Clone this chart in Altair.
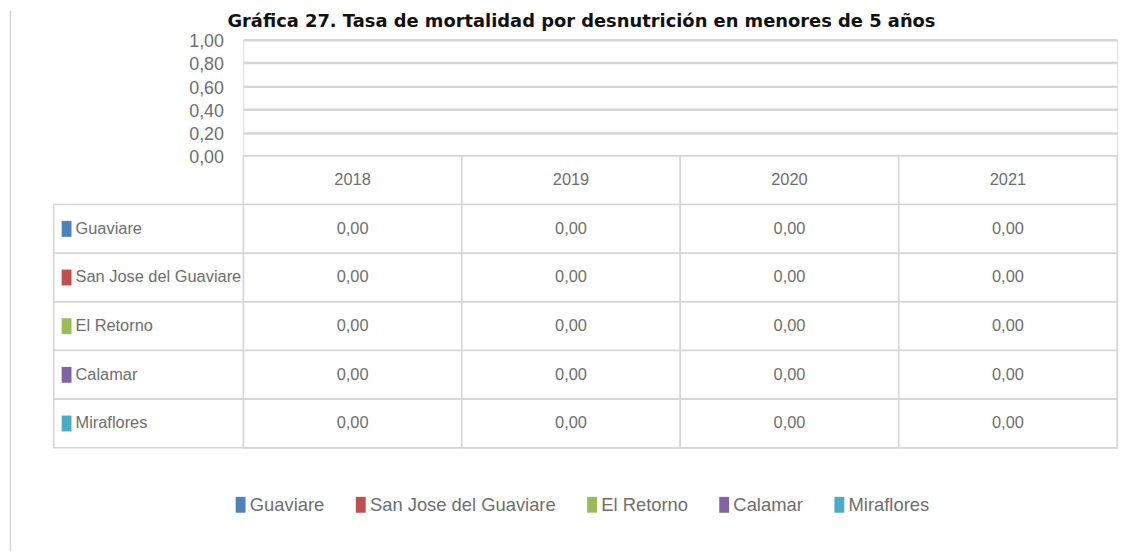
import altair as alt
import pandas as pd

# ---------------- data ----------------
titulo = "Gráfica 27. Tasa de mortalidad por desnutrición en menores de 5 años"
anios = ["2018", "2019", "2020", "2021"]
municipios = ["Guaviare", "San Jose del Guaviare", "El Retorno", "Calamar", "Miraflores"]
tasa_guaviare = [0.00, 0.00, 0.00, 0.00]
tasa_san_jose = [0.00, 0.00, 0.00, 0.00]
tasa_el_retorno = [0.00, 0.00, 0.00, 0.00]
tasa_calamar = [0.00, 0.00, 0.00, 0.00]
tasa_miraflores = [0.00, 0.00, 0.00, 0.00]
colores = ["#4F81BD", "#C0504D", "#9BBB59", "#8064A2", "#4BACC6"]
marcas_y = [0.0, 0.2, 0.4, 0.6, 0.8, 1.0]

series = [tasa_guaviare, tasa_san_jose, tasa_el_retorno, tasa_calamar, tasa_miraflores]


def coma(v):
    return f"{v:.2f}".replace(".", ",")


registros = []
for m, vals in zip(municipios, series):
    for a, v in zip(anios, vals):
        registros.append({"municipio": m, "anio": a, "tasa": v, "fila": m, "texto": coma(v)})
datos = pd.DataFrame(registros)

encabezado = "Año"
filas = [encabezado] + municipios
cabecera = pd.DataFrame({"anio": anios, "fila": encabezado, "texto": anios})
tabla = pd.concat([cabecera, datos[["anio", "fila", "texto"]]], ignore_index=True)
etiquetas = pd.DataFrame({"fila": municipios, "hex": colores})
marco_df = pd.DataFrame({"v": [0.0, 1.0]})

# ---------------- layout / style ----------------
W, H, TOP_H = 880, 411, 117
FONT = "Liberation Sans, Arial, sans-serif"
GRIS_TXT = "#6e6e6e"
GRIS_LIN = "#d6d6d6"
MUESTRA = "M-0.62,-1H0.62V1H-0.62Z"

# top column chart (all values are zero); its top x axis carries the chart title
barras = alt.Chart(datos).mark_bar().encode(
    x=alt.X(
        "anio:N",
        scale=alt.Scale(domain=anios),
        axis=alt.Axis(
            orient="top", labels=False, ticks=False, domain=False, grid=False,
            title=titulo, titleX=340, titleY=-12.8, titleAlign="center", titleBaseline="alphabetic",
            titleFont="DejaVu Sans", titleFontSize=18, titleFontWeight="bold", titleColor="#111111",
        ),
    ),
    xOffset=alt.XOffset("municipio:N", scale=alt.Scale(domain=municipios)),
    y=alt.Y(
        "tasa:Q",
        scale=alt.Scale(domain=[0, 1], range=[TOP_H, 0], nice=False),
        axis=alt.Axis(
            values=marcas_y,
            labelExpr="replace(format(datum.value, '.2f'), '.', ',')",
            grid=True, gridColor=GRIS_LIN, gridWidth=2.5,
            domain=False, ticks=False, title=None,
            labelPadding=20, labelFont=FONT, labelFontSize=18, labelOffset=2,
            labelColor=GRIS_TXT, labelOverlap=False,
        ),
    ),
    color=alt.Color(
        "municipio:N",
        scale=alt.Scale(domain=municipios, range=colores),
        legend=alt.Legend(
            orient="none", legendX=-12, legendY=459, direction="horizontal",
            title=None, symbolType=MUESTRA, symbolSize=256, symbolStrokeWidth=0,
            labelFont=FONT, labelFontSize=18.5, labelColor=GRIS_TXT,
            labelOffset=0, columnPadding=27, padding=0, labelLimit=400,
        ),
    ),
)

# data table
x_anio = alt.X("anio:N", scale=alt.Scale(domain=anios, paddingInner=0, paddingOuter=0), axis=None)
y_fila = alt.Y("fila:N", scale=alt.Scale(domain=filas, range=[TOP_H, H], paddingInner=0, paddingOuter=0), axis=None)
esc_col = alt.Scale(domain=[0, 1], range=[-191, 0])
x_ini = alt.XDatum(0, type="quantitative", scale=esc_col, axis=None)
x_fin = alt.X2Datum(1)

celdas = alt.Chart(tabla).mark_rect(fill="white", stroke=GRIS_LIN, strokeWidth=1.6).encode(x=x_anio, y=y_fila)
textos = alt.Chart(tabla).mark_text(font=FONT, fontSize=16.5, color=GRIS_TXT).encode(
    x=x_anio, y=y_fila, text="texto:N")
celdas_mun = alt.Chart(etiquetas).mark_rect(fill="white", stroke=GRIS_LIN, strokeWidth=1.6).encode(
    x=x_ini, x2=x_fin, y=y_fila)
nombres = alt.Chart(etiquetas).mark_text(align="left", dx=22, font=FONT, fontSize=16.5, color=GRIS_TXT).encode(
    x=x_ini, y=y_fila, text="fila:N")
muestras = alt.Chart(etiquetas).mark_point(shape=MUESTRA, size=256, filled=True, opacity=1, xOffset=13).encode(
    x=x_ini, y=y_fila, color=alt.Color("hex:N", scale=None))

capa_tabla = alt.layer(celdas, textos, celdas_mun, nombres, muestras).resolve_scale(x="independent")

# thin page frame line at the left
marco = alt.Chart(marco_df).mark_point(opacity=0).encode(
    y=alt.Y(
        "v:Q",
        scale=alt.Scale(domain=[0, 1], range=[515, -30]),
        axis=alt.Axis(orient="left", offset=235, domain=True, domainColor=GRIS_LIN, domainWidth=1.5,
                      ticks=False, labels=False, grid=False, title=None),
    )
)

chart = (
    alt.layer(barras, capa_tabla, marco)
    .resolve_scale(x="independent", y="independent", color="independent")
    .properties(
        width=W, height=H,
        autosize=alt.AutoSizeParams(type="none"),
        padding={"left": 237, "top": 30, "right": 22, "bottom": 104},
    )
    .configure_view(stroke=None)
    .configure(background="white")
)

chart.save("out.html", embed_options={"renderer": "svg", "actions": False})
